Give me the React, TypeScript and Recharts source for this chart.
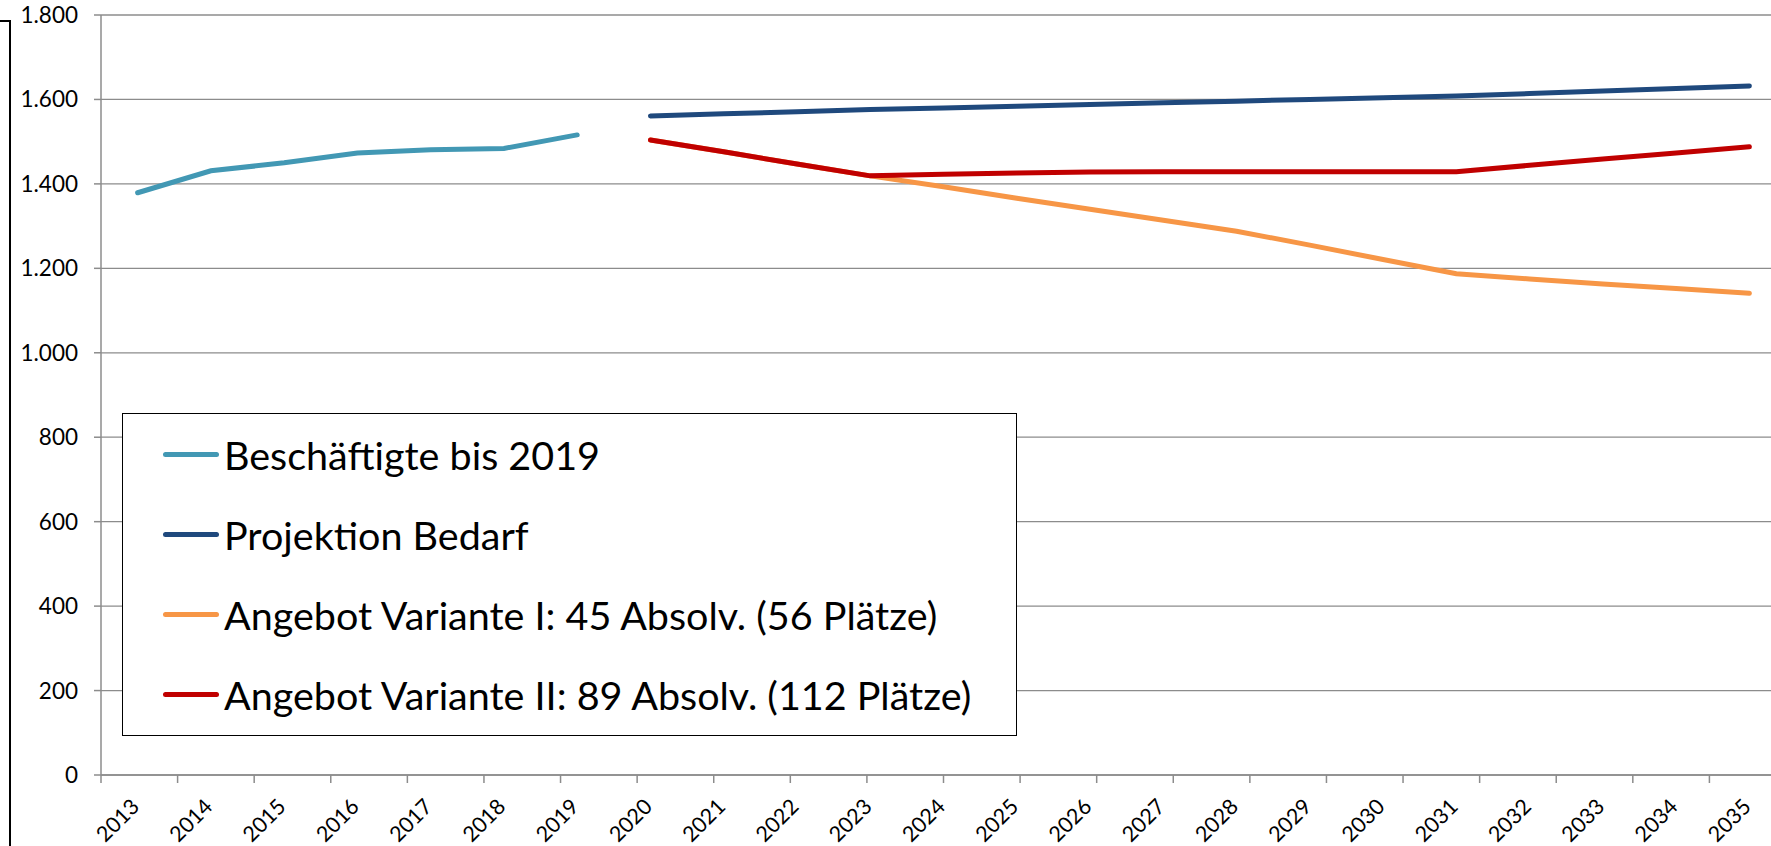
import { LineChart, Line, XAxis, YAxis, CartesianGrid, Legend, ReferenceLine } from "recharts";

const years = [
  "2013", "2014", "2015", "2016", "2017", "2018", "2019", "2020", "2021", "2022", "2023", "2024",
  "2025", "2026", "2027", "2028", "2029", "2030", "2031", "2032", "2033", "2034", "2035",
];

// Beschäftigte bis 2019
const beschaeftigte = [1379, 1431, 1450, 1473, 1481, 1484, 1516, null, null, null, null, null,
  null, null, null, null, null, null, null, null, null, null, null];

// Projektion Bedarf
const bedarf = [null, null, null, null, null, null, null, 1561, 1566, 1571, 1576, 1580,
  1584, 1588, 1592, 1596, 1600, 1604, 1608, 1614, 1620, 1626, 1632];

// Angebot Variante I
const varianteI = [null, null, null, null, null, null, null, 1504, 1476, 1447, 1419, 1393,
  1366, 1340, 1314, 1288, 1255, 1221, 1187, 1175, 1163, 1152, 1141];

// Angebot Variante II
const varianteII = [null, null, null, null, null, null, null, 1504, 1476, 1447, 1419, 1423,
  1426, 1428, 1429, 1429, 1429, 1429, 1429, 1444, 1459, 1473, 1488];

const seriesNames = [
  "Beschäftigte bis 2019",
  "Projektion Bedarf",
  "Angebot Variante I: 45 Absolv. (56 Plätze)",
  "Angebot Variante II: 89 Absolv. (112 Plätze)",
];

const yTicks = [0, 200, 400, 600, 800, 1000, 1200, 1400, 1600, 1800];
// category boundaries (tick marks sit between the years)
const boundaryTicks = [...years.map((_, i) => i), years.length];

const chartData = years.map((year, i) => ({
  year,
  beschaeftigte: beschaeftigte[i],
  bedarf: bedarf[i],
  varianteI: varianteI[i],
  varianteII: varianteII[i],
}));

const FONT = "Lato, 'Liberation Sans', sans-serif";
const GRID = "#8c8c8c";

const formatDE = (v: number) => String(v).replace(/\B(?=(\d{3})+(?!\d))/g, ".");

function YearTick(props: any) {
  const { x, y, payload } = props;
  const ax = x + 3;
  const ay = y + 33;
  return (
    <text x={ax} y={ay} transform={`rotate(-45 ${ax} ${ay})`} textAnchor="end"
      fontSize={21.5} fontFamily={FONT} fill="#000">
      {payload.value}
    </text>
  );
}

function LegendBox({ payload }: any) {
  const items = [...(payload || [])].sort(
    (a: any, b: any) => seriesNames.indexOf(a.value) - seriesNames.indexOf(b.value)
  );
  return (
    <div style={{
      width: 895, height: 323, boxSizing: "border-box", border: "1.5px solid #000",
      background: "#fff", fontFamily: FONT, fontSize: 39.5, color: "#000",
    }}>
      {items.map((p: any) => (
        <div key={p.value} style={{ height: 80, display: "flex", alignItems: "center" }}>
          <span style={{ display: "inline-block", marginLeft: 40, width: 56, height: 5, borderRadius: 3, background: p.color }} />
          <span style={{ marginLeft: 5, whiteSpace: "nowrap" }}>{p.value}</span>
        </div>
      ))}
    </div>
  );
}

export default function App() {
  return (
    <div style={{ position: "absolute", left: 0, top: 0, width: 1771, height: 846, overflow: "hidden", background: "#fff" }}>
      <div style={{ position: "absolute", left: 0, top: 20, width: 9, height: 840, borderTop: "2px solid #000", borderRight: "2px solid #000" }} />
      <LineChart width={1800} height={846} data={chartData} margin={{ top: 15, right: 14, bottom: 0, left: 0 }}>
        <CartesianGrid vertical={false} stroke={GRID} strokeWidth={1.3} />
        <XAxis xAxisId="b" type="number" domain={[0, years.length]} allowDataOverflow hide />
        <XAxis dataKey="year" scale="band" interval={0} height={71} tickLine={false} tickSize={0} tickMargin={0}
          axisLine={{ stroke: GRID, strokeWidth: 1.5 }} tick={YearTick} />
        <YAxis domain={[0, 1800]} ticks={yTicks} width={101} tickSize={7} tickMargin={16}
          axisLine={{ stroke: GRID, strokeWidth: 1.5 }} tickLine={{ stroke: GRID, strokeWidth: 1.5 }}
          tickFormatter={formatDE} tick={{ fill: "#000", fontSize: 22.5, fontFamily: FONT }} />
        {boundaryTicks.map((b) => (
          <ReferenceLine key={b} xAxisId="b" ifOverflow="visible" stroke={GRID} strokeWidth={1.5}
            segment={[{ x: b, y: 0 }, { x: b, y: -19 }]} />
        ))}
        <Legend layout="horizontal" verticalAlign="middle" align="center" content={<LegendBox />}
          wrapperStyle={{ left: 122, top: 413, width: 895, height: 323 }} />
        <Line dataKey="beschaeftigte" name={seriesNames[0]} stroke="#4298B4" strokeWidth={5}
          dot={false} isAnimationActive={false} strokeLinecap="round" />
        <Line dataKey="bedarf" name={seriesNames[1]} stroke="#1F497D" strokeWidth={5}
          dot={false} isAnimationActive={false} strokeLinecap="round" />
        <Line dataKey="varianteI" name={seriesNames[2]} stroke="#F79646" strokeWidth={5}
          dot={false} isAnimationActive={false} strokeLinecap="round" />
        <Line dataKey="varianteII" name={seriesNames[3]} stroke="#C00000" strokeWidth={5}
          dot={false} isAnimationActive={false} strokeLinecap="round" />
      </LineChart>
    </div>
  );
}
